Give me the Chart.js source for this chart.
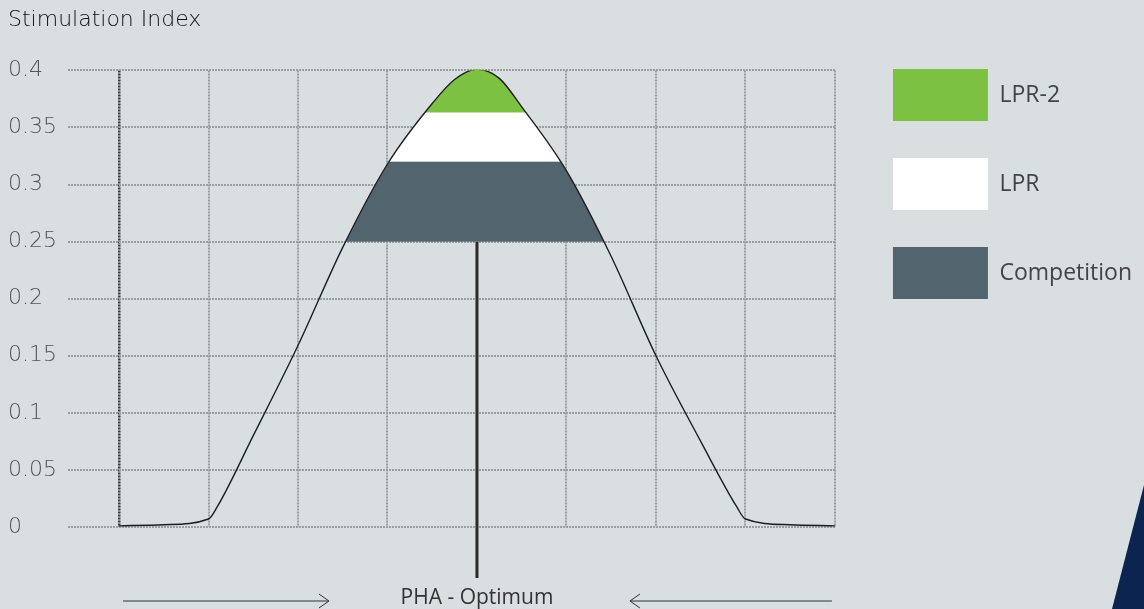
<!DOCTYPE html>
<html>
<head>
<meta charset="utf-8">
<script src="https://cdn.jsdelivr.net/npm/chart.js@4/dist/chart.umd.min.js"></script>
<style>
  html, body { margin: 0; padding: 0; background: #d9dee0; }
  #wrap { width: 1144px; height: 609px; }
</style>
</head>
<body>
<div id="wrap"><canvas id="grafico"></canvas></div>
<script>
// Datos
const curvaX = [0, 0.5, 1, 1.1, 1.5, 2, 2.5, 3, 3.5, 3.75, 4, 4.25, 4.5, 5, 5.5, 6, 6.5, 6.9, 7, 7.5, 8];
const curvaY = [0.001, 0.002, 0.007, 0.018, 0.08, 0.159, 0.245, 0.318, 0.371, 0.392, 0.401, 0.393, 0.368, 0.312, 0.237, 0.15, 0.075, 0.018, 0.007, 0.002, 0.001];
const bandas = ["LPR-2", "LPR", "Competition"];
const limitesBandas = [0.363, 0.32, 0.25];
const coloresBandas = ["#7dc142", "#ffffff", "#52646e"];
const gridX = [0, 1, 2, 3, 4, 5, 6, 7, 8];
const picoX = 4;
const etiquetaX = "PHA - Optimum";
const tituloY = "Stimulation Index";

const fuenteEjes = "'DejaVu Sans', sans-serif";
const fuenteTexto = "'Open Sans', 'Noto Sans', sans-serif";
const puntos = curvaX.map((x, i) => ({ x: x, y: curvaY[i] }));

// ----------- Bandas: recortadas bajo la curva -----------
const bandasPlugin = {
  id: "bandas",
  beforeDatasetsDraw(chart) {
    const c = chart.ctx;
    const area = chart.chartArea;
    const sy = chart.scales.y;
    const linea = chart.getDatasetMeta(0).dataset;
    const pts = chart.getDatasetMeta(0).data;
    c.save();
    c.beginPath();
    linea.path(c);
    c.lineTo(pts[pts.length - 1].x, area.bottom);
    c.lineTo(pts[0].x, area.bottom);
    c.closePath();
    c.clip();
    limitesBandas.forEach((lim, i) => {
      const top = i === 0 ? area.top - 5 : sy.getPixelForValue(limitesBandas[i - 1]);
      const bottom = sy.getPixelForValue(lim);
      c.fillStyle = coloresBandas[i];
      c.fillRect(area.left, top, area.right - area.left, bottom - top);
    });
    c.restore();
  }
};

// ----------- Extras: fondo, tallo, flechas, decoración -----------
const extras = {
  id: "extras",
  beforeDraw(chart) {
    const c = chart.ctx;
    c.save();
    c.fillStyle = "#d9dee0";
    c.fillRect(0, 0, chart.width, chart.height);
    c.restore();
  },
  afterDraw(chart) {
    const c = chart.ctx;
    const sx = chart.scales.x, sy = chart.scales.y;
    const area = chart.chartArea;
    const px = sx.getPixelForValue(picoX);

    c.save();
    // tallo del óptimo
    c.strokeStyle = "#2b2b2b";
    c.lineWidth = 3;
    c.beginPath();
    c.moveTo(px, sy.getPixelForValue(limitesBandas[2]));
    c.lineTo(px, area.bottom + 51);
    c.stroke();

    // texto y flechas
    c.fillStyle = "#333";
    c.font = "21px " + fuenteTexto;
    c.textAlign = "center";
    c.textBaseline = "middle";
    c.fillText(etiquetaX, px, area.bottom + 71);

    const yf = area.bottom + 74;
    c.strokeStyle = "#333";
    c.lineWidth = 1;
    const x0 = sx.getPixelForValue(gridX[0]) + 4;
    const x1 = sx.getPixelForValue(gridX[gridX.length - 1]) - 3;
    c.beginPath();
    c.moveTo(x0, yf); c.lineTo(px - 148, yf);
    c.moveTo(px - 158, yf - 7); c.lineTo(px - 148, yf); c.lineTo(px - 158, yf + 7);
    c.moveTo(x1, yf); c.lineTo(px + 153, yf);
    c.moveTo(px + 163, yf - 7); c.lineTo(px + 153, yf); c.lineTo(px + 163, yf + 7);
    c.stroke();

    // esquina azul
    c.fillStyle = "#0b2450";
    c.beginPath();
    c.moveTo(chart.width, 485);
    c.lineTo(chart.width, chart.height);
    c.lineTo(chart.width - 32, chart.height);
    c.closePath();
    c.fill();
    c.restore();
  }
};

function renderGrafico() {
  new Chart(document.getElementById("grafico"), {
    type: "line",
    data: {
      datasets: [{
        label: "curva",
        data: puntos,
        borderColor: "#1e1e1e",
        borderWidth: 1.4,
        pointRadius: 0,
        fill: false,
        cubicInterpolationMode: "monotone"
      }]
    },
    options: {
      responsive: true,
      maintainAspectRatio: false,
      animation: false,
      layout: { padding: { left: 8, right: 2, top: 0, bottom: 82 } },
      plugins: {
        tooltip: { enabled: false },
        title: {
          display: true,
          text: tituloY,
          align: "start",
          color: "#111",
          font: { family: fuenteEjes, size: 22, weight: "200" },
          padding: { top: 7, bottom: 37 }
        },
        legend: {
          position: "right",
          align: "start",
          maxWidth: 320,
          title: { display: true, text: "", font: { size: 10 }, padding: { top: 20, bottom: 0 } },
          labels: {
            generateLabels: () => bandas.map((b, i) => ({
              text: b,
              fillStyle: coloresBandas[i],
              strokeStyle: coloresBandas[i],
              lineWidth: 0,
              hidden: false,
              fontColor: "#444"
            })),
            boxWidth: 95,
            boxHeight: 52,
            padding: 37,
            color: "#444",
            font: { family: fuenteTexto, size: 23 }
          }
        }
      },
      scales: {
        x: {
          type: "linear",
          min: -0.57,
          max: 8,
          afterBuildTicks: s => { s.ticks = gridX.map(v => ({ value: v })); },
          ticks: { display: false },
          border: { display: false, dash: [2, 1] },
          grid: {
            drawTicks: false,
            color: ctx => ctx.tick && ctx.tick.value === 0 ? "#3a3a3a" :
                          (ctx.tick && ctx.tick.value === picoX ? "rgba(0,0,0,0)" : "#9a9ea1"),
            lineWidth: ctx => ctx.tick && ctx.tick.value === 0 ? 2.5 : 2
          }
        },
        y: {
          min: 0,
          max: 0.4,
          afterFit: s => { s.width = 60; },
          ticks: {
            stepSize: 0.05,
            crossAlign: "far",
            color: "#555",
            callback: v => String(Number(v.toFixed(2))),
            font: { family: fuenteEjes, size: 22, weight: "200" }
          },
          border: { display: false, dash: [2, 1] },
          grid: { drawTicks: false, color: "#9a9ea1", lineWidth: 2 }
        },
        // separación entre el área del gráfico y la leyenda
        hueco: {
          position: "right",
          afterFit: s => { s.width = 21; },
          ticks: { display: false },
          grid: { display: false, drawTicks: false },
          border: { display: false }
        }
      }
    },
    plugins: [bandasPlugin, extras]
  });
}

document.addEventListener("DOMContentLoaded", renderGrafico);
</script>
</body>
</html>
